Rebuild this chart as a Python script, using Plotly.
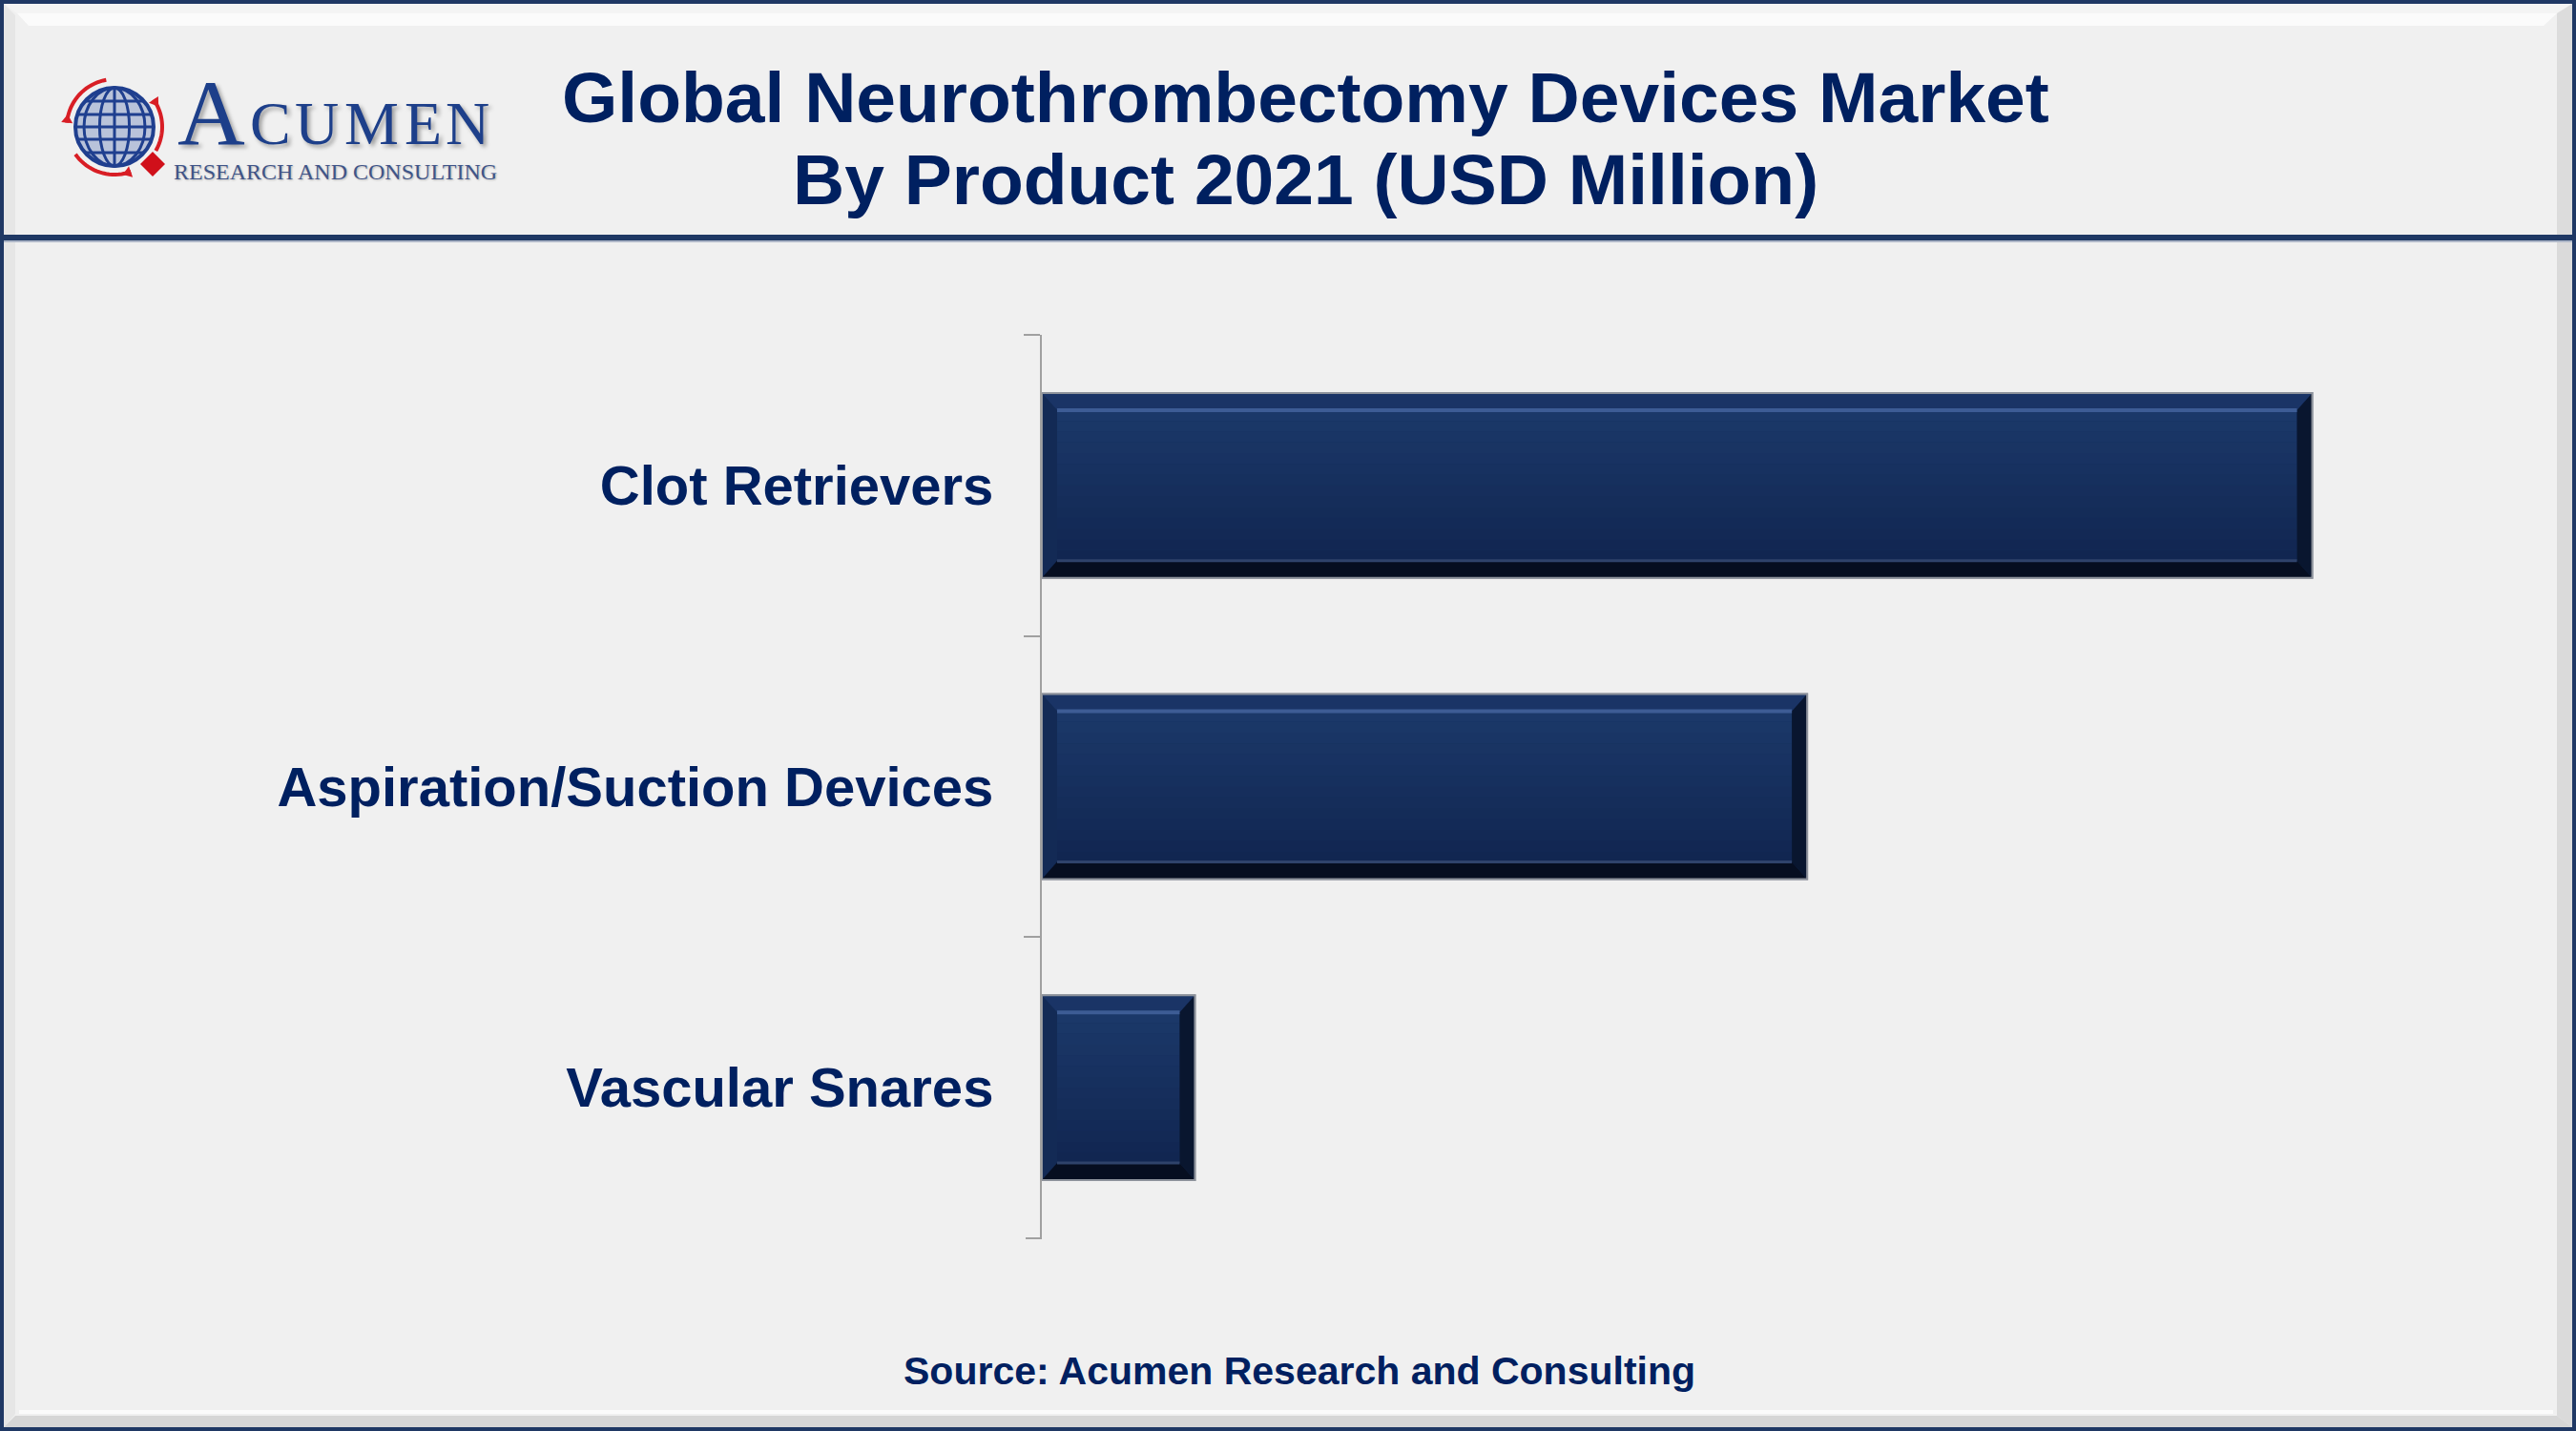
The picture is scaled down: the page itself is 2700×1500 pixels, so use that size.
import math
import plotly.graph_objects as go

# ---------------- data ----------------
categories = ["Clot Retrievers", "Aspiration/Suction Devices", "Vascular Snares"]
values = [830, 500, 100]          # USD Million
title_line1 = "Global Neurothrombectomy Devices Market"
title_line2 = "By Product 2021 (USD Million)"
source_text = "Source: Acumen Research and Consulting"

# ---------------- layout constants ----------------
W, H = 2700, 1500
NAVY = "#002060"
BG = "#f0f0f0"
BORDER = "#1f3864"
XMAX = 940
X_DOM = (1092 / W, 2600 / W)
Y_DOM = (1 - 1299 / H, 1 - 351 / H)
BARGAP = 0.386
TICKLEN = 17
FONT = "Liberation Sans, Arial, Helvetica, sans-serif"
SERIF = "Liberation Serif, Times New Roman, serif"


def px(x):
    return x / W


def py(y):
    return 1 - y / H


fig = go.Figure()
fig.add_trace(go.Bar(
    y=categories, x=values, orientation="h",
    marker=dict(color="#16305e", line=dict(color="#8d929b", width=2)),
    hoverinfo="x+y", showlegend=False,
))

shapes = []


def prect(x0, y0, x1, y1, color, layer="below"):
    shapes.append(dict(type="rect", xref="paper", yref="paper",
                       x0=px(x0), x1=px(x1), y0=py(y0), y1=py(y1),
                       fillcolor=color, line=dict(width=0), layer=layer))


def ppath(points, color, layer="below"):
    d = "M " + " L ".join(f"{px(a):.5f},{py(b):.5f}" for a, b in points) + " Z"
    shapes.append(dict(type="path", xref="paper", yref="paper", path=d,
                       fillcolor=color, line=dict(width=0), layer=layer))


# ---------------- frame / panels ----------------
ppath([(4, 4), (2696, 4), (2680, 14), (18, 14)], "#f4f4f4")
ppath([(18, 14), (2680, 14), (2666, 27), (30, 27)], "#fbfbfb")
ppath([(2680, 14), (2696, 4), (2696, 246), (2680, 246)], "#dcdcdc")
ppath([(4, 4), (16, 16), (16, 246), (4, 246)], "#e6e6e6")
ppath([(2680, 254), (2696, 254), (2696, 1496), (2680, 1484)], "#dadada")
ppath([(4, 254), (16, 254), (16, 1482), (4, 1496)], "#e6e6e6")
ppath([(16, 1484), (2680, 1484), (2696, 1496), (4, 1496)], "#d6d6d6")
prect(20, 1478, 2676, 1482, "#fbfbfb")
prect(0, 246, W, 252, BORDER)
prect(0, 252, W, 254, "#aeb7c8")
prect(0, 0, W, 4, BORDER)
prect(0, H - 4, W, H, BORDER)
prect(0, 0, 4, H, BORDER)
prect(W - 4, 0, W, H, BORDER)

# ---------------- logo ----------------
gx, gy, gr = 120, 133, 41
shapes.append(dict(type="circle", xref="paper", yref="paper",
                   x0=px(gx - gr), x1=px(gx + gr), y0=py(gy + gr), y1=py(gy - gr),
                   fillcolor="#b9c3da", line=dict(color="#1f3f8f", width=4), layer="above"))
for k in (0.38, 0.78):
    shapes.append(dict(type="circle", xref="paper", yref="paper",
                       x0=px(gx - gr * k), x1=px(gx + gr * k), y0=py(gy + gr), y1=py(gy - gr),
                       fillcolor="rgba(0,0,0,0)", line=dict(color="#1f3f8f", width=3), layer="above"))
shapes.append(dict(type="line", xref="paper", yref="paper", x0=px(gx), x1=px(gx),
                   y0=py(gy - gr), y1=py(gy + gr), line=dict(color="#1f3f8f", width=3), layer="above"))
for dy in (-27, -13, 0, 13, 27):
    hw = math.sqrt(gr * gr - dy * dy)
    shapes.append(dict(type="line", xref="paper", yref="paper", x0=px(gx - hw), x1=px(gx + hw),
                       y0=py(gy + dy), y1=py(gy + dy), line=dict(color="#1f3f8f", width=3), layer="above"))
for a0, a1 in ((100, 175), (215, 290), (330, 395)):
    pts = []
    for t in range(0, 21):
        ang = math.radians(a0 + (a1 - a0) * t / 20)
        pts.append((gx + 50 * math.cos(ang), gy - 50 * math.sin(ang)))
    d = "M " + " L ".join(f"{px(a):.5f},{py(b):.5f}" for a, b in pts)
    shapes.append(dict(type="path", xref="paper", yref="paper", path=d,
                       line=dict(color="#d81e25", width=4), layer="above"))
    ang = math.radians(a1)
    tx, ty = gx + 50 * math.cos(ang), gy - 50 * math.sin(ang)
    dirx, diry = math.sin(ang), math.cos(ang)
    nx, ny = math.cos(ang), -math.sin(ang)
    ppath([(tx + 9 * dirx, ty + 9 * diry), (tx + 6 * nx, ty + 6 * ny), (tx - 6 * nx, ty - 6 * ny)],
          "#d81e25", layer="above")
dx, dy0 = 160, 172
ppath([(dx, dy0 - 13), (dx + 13, dy0), (dx, dy0 + 13), (dx - 13, dy0)], "#d0101a", layer="above")

annotations = []
shadow = "3px 3px 4px rgba(0,0,0,0.35)"
annotations.append(dict(text="A", x=px(184), y=py(153 + 21), xref="paper", yref="paper",
                        xanchor="left", yanchor="bottom", showarrow=False,
                        font=dict(family=SERIF, size=98, color="#1d3f8a", shadow=shadow)))
# small caps letters, spread to the logo width
small = [("C", 0.667), ("U", 0.722), ("M", 0.889), ("E", 0.611), ("N", 0.722)]
lx = 260.0
stretch = 1.11
for ch, wem in small:
    annotations.append(dict(text=ch, x=px(lx), y=py(153 + 14), xref="paper", yref="paper",
                            xanchor="left", yanchor="bottom", showarrow=False,
                            font=dict(family=SERIF, size=64, color="#1d3f8a", shadow=shadow)))
    lx += wem * 64 * stretch
annotations.append(dict(text="RESEARCH AND CONSULTING", x=px(180), y=py(180), xref="paper", yref="paper",
                        xanchor="left", yanchor="middle", showarrow=False,
                        font=dict(family=SERIF, size=24, color="#3f5488",
                                  shadow="1px 1px 2px rgba(0,0,0,0.25)")))

# ---------------- titles ----------------
annotations.append(dict(text=title_line1, x=px(1368), y=py(102), xref="paper", yref="paper",
                        xanchor="center", yanchor="middle", showarrow=False,
                        font=dict(family=FONT, size=75, color=NAVY, weight="bold")))
annotations.append(dict(text=title_line2, x=px(1368), y=py(188), xref="paper", yref="paper",
                        xanchor="center", yanchor="middle", showarrow=False,
                        font=dict(family=FONT, size=75, color=NAVY, weight="bold")))
annotations.append(dict(text=source_text, x=px(1362), y=py(1437), xref="paper", yref="paper",
                        xanchor="center", yanchor="middle", showarrow=False,
                        font=dict(family=FONT, size=41, color=NAVY, weight="bold")))

# ---------------- beveled bars (derived from the data) ----------------
plot_w = (X_DOM[1] - X_DOM[0]) * W
plot_h = (Y_DOM[1] - Y_DOM[0]) * H
pxx = plot_w / XMAX
pxy = plot_h / len(categories)
bx = 16 / pxx
by = 18 / pxy
half = (1 - BARGAP) / 2


def dpath(points, color, layer="above"):
    d = "M " + " L ".join(f"{a:.5f},{b:.5f}" for a, b in points) + " Z"
    shapes.append(dict(type="path", xref="x", yref="y", path=d, fillcolor=color,
                       line=dict(width=0), layer=layer))


def lerp(c1, c2, t):
    a = [int(c1[i:i + 2], 16) for i in (1, 3, 5)]
    b = [int(c2[i:i + 2], 16) for i in (1, 3, 5)]
    return "#" + "".join(f"{round(a[k] + (b[k] - a[k]) * t):02x}" for k in range(3))


for i, v in enumerate(values):
    top, bot = i - half, i + half
    itop, ibot = top + by, bot - by
    n = 14
    for s in range(n):
        y0 = itop + (ibot - itop) * s / n
        y1 = itop + (ibot - itop) * (s + 1) / n
        dpath([(bx, y0), (v - bx, y0), (v - bx, y1), (bx, y1)], lerp("#1b3869", "#112651", s / (n - 1)))
    dpath([(0, top), (v, top), (v - bx, itop), (bx, itop)], "#1a3466")
    dpath([(0, top), (bx, itop), (bx, ibot), (0, bot)], "#132a55")
    dpath([(v, top), (v, bot), (v - bx, ibot), (v - bx, itop)], "#09162f")
    dpath([(0, bot), (bx, ibot), (v - bx, ibot), (v, bot)], "#060e20")
    shapes.append(dict(type="line", xref="x", yref="y", x0=bx, x1=v - bx, y0=itop, y1=itop,
                       line=dict(color="#3d5c95", width=4), layer="above"))
    shapes.append(dict(type="line", xref="x", yref="y", x0=bx, x1=v - bx, y0=ibot, y1=ibot,
                       line=dict(color="#2f436b", width=3), layer="above"))
    shapes.append(dict(type="rect", xref="x", yref="y", x0=0, x1=v, y0=top, y1=bot,
                       fillcolor="rgba(0,0,0,0)", line=dict(color="#8d929b", width=2), layer="above"))

# closing boundary tick at the bottom of the category axis
shapes.append(dict(type="line", xref="paper", yref="y",
                   x0=X_DOM[0] - TICKLEN / W, x1=X_DOM[0], y0=len(categories) - 0.5, y1=len(categories) - 0.5,
                   line=dict(color="#a0a0a0", width=2), layer="above"))

fig.update_layout(
    width=W, height=H,
    margin=dict(l=0, r=0, t=0, b=0, pad=0),
    paper_bgcolor=BG, plot_bgcolor="rgba(0,0,0,0)",
    bargap=BARGAP, showlegend=False,
    shapes=shapes, annotations=annotations,
    xaxis=dict(domain=list(X_DOM), range=[0, XMAX], visible=False, fixedrange=True),
    yaxis=dict(domain=list(Y_DOM), type="category", categoryorder="array", categoryarray=categories,
               autorange="reversed", showgrid=False, zeroline=False,
               showline=True, linecolor="#a0a0a0", linewidth=2,
               ticks="outside", tickson="boundaries", ticklen=TICKLEN, tickwidth=2, tickcolor="#a0a0a0",
               ticklabelstandoff=37,
               tickfont=dict(family=FONT, size=58, color=NAVY, weight="bold"), fixedrange=True),
)

fig.write_html("out.html")
